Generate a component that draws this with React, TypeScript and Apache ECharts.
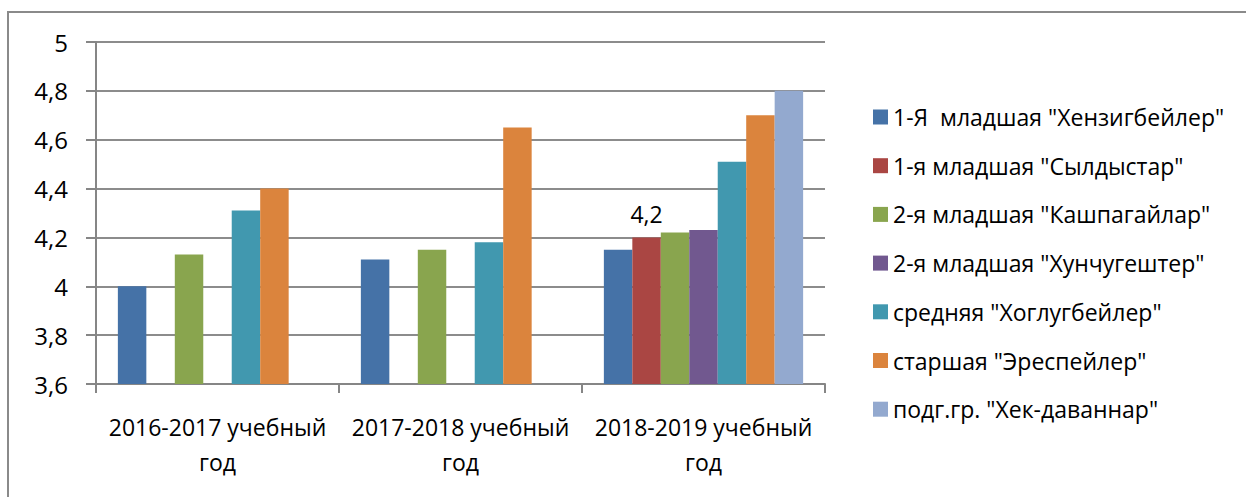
import React, { useEffect, useRef } from "react";
import * as echarts from "echarts";

const categories = ["2016-2017 учебный год", "2017-2018 учебный год", "2018-2019 учебный год"];
const seriesNames = [
  "1-Я  младшая \"Хензигбейлер\"",
  "1-я младшая \"Сылдыстар\"",
  "2-я младшая \"Кашпагайлар\"",
  "2-я младшая \"Хунчугештер\"",
  "средняя \"Хоглугбейлер\"",
  "старшая \"Эреспейлер\"",
  "подг.гр. \"Хек-даваннар\"",
];
const s1 = [4.0, 4.11, 4.15];
const s2 = [null, null, 4.2];
const s3 = [4.13, 4.15, 4.22];
const s4 = [null, null, 4.23];
const s5 = [4.31, 4.18, 4.51];
const s6 = [4.4, 4.65, 4.7];
const s7 = [null, null, 4.8];
const seriesValues = [s1, s2, s3, s4, s5, s6, s7];
const colors = ["#4572A7", "#AA4643", "#89A54E", "#71588F", "#4198AF", "#DB843D", "#93A9CF"];
const yMin = 3.6;
const yMax = 5;
const yStep = 0.2;

const comma = (v: number) => String(Math.round(v * 100) / 100).replace(".", ",");

export default function App() {
  const ref = useRef<HTMLDivElement>(null);
  useEffect(() => {
    document.body.style.margin = "0";
    const chart = echarts.init(ref.current!, null, { renderer: "svg" });
    const font = "'Open Sans', sans-serif";
    chart.setOption({
      animation: false,
      color: colors,
      textStyle: { fontFamily: font },
      graphic: [
        {
          type: "rect",
          shape: { x: 8, y: 12, width: 1400, height: 700 },
          style: { fill: "none", stroke: "#8a8a8a", lineWidth: 2 },
          silent: true,
        },
      ],
      grid: { left: 96, right: 421, top: 42, bottom: 113, containLabel: false },
      legend: {
        orient: "vertical",
        left: 868,
        top: 99,
        icon: "rect",
        itemWidth: 15,
        itemHeight: 15,
        itemGap: 22.7,
        textStyle: { fontFamily: font, fontSize: 23, color: "#000", lineHeight: 26 },
        data: seriesNames,
      },
      xAxis: {
        type: "category",
        data: categories,
        axisLine: { lineStyle: { color: "#868686", width: 2 } },
        axisTick: { show: true, length: 9, lineStyle: { color: "#868686", width: 2 } },
        axisLabel: {
          margin: 25,
          fontFamily: font,
          fontSize: 23,
          lineHeight: 35,
          color: "#000",
          interval: 0,
          formatter: (v: string) => v.replace(" год", "\nгод"),
        },
        splitLine: { show: false },
      },
      yAxis: {
        type: "value",
        min: yMin,
        max: yMax,
        interval: yStep,
        axisLine: { show: true, lineStyle: { color: "#868686", width: 2 } },
        axisTick: { show: true, length: 10, lineStyle: { color: "#868686", width: 2 } },
        axisLabel: {
          margin: 28,
          fontFamily: font,
          fontSize: 24,
          color: "#000",
          formatter: (v: number) => comma(v),
        },
        splitLine: { show: true, lineStyle: { color: "#8c8c8c", width: 2 } },
      },
      series: seriesNames.map((name, i) => ({
        name,
        type: "bar",
        data: seriesValues[i],
        barGap: "0%",
        barCategoryGap: "18%",
        itemStyle: { color: colors[i] },
        label:
          i === 1
            ? {
                show: true,
                position: "top",
                distance: 12,
                fontFamily: font,
                fontSize: 23,
                color: "#000",
                formatter: (p: any) => comma(p.value),
              }
            : { show: false },
      })),
    });
    return () => chart.dispose();
  }, []);
  return <div ref={ref} style={{ width: 1246, height: 497 }} />;
}
